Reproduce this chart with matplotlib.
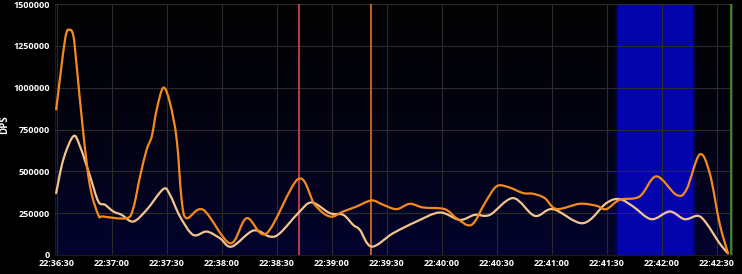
import numpy as np
import matplotlib
matplotlib.use("Agg")
import matplotlib.pyplot as plt
from matplotlib.colors import LinearSegmentedColormap
from matplotlib.path import Path
from matplotlib.patches import PathPatch

# seconds after 22:36:30
t_total = [-0.5, 4.4, 6.7, 8.9, 10.7, 14.3, 18.0, 22.5, 25.1, 38.0, 41.6, 45.3,
           48.9, 51.7, 54.4, 58.0, 61.6, 65.3, 68.0, 70.7, 79.8, 94.4, 103.5,
           114.4, 131.6, 140.7, 148.9, 156.2, 163.5, 171.7, 178.0, 185.3, 192.5,
           199.8, 211.6, 218.0, 226.2, 233.5, 239.8, 246.2, 254.4, 259.8, 266.2,
           272.6, 285.3, 294.4, 299.8, 307.1, 318.0, 327.1, 338.0, 343.5, 350.7,
           356.2, 361.6, 366.2]
dps_total = [870000, 1290000, 1345000, 1310000, 1130000, 730000, 410000, 240000,
             230000, 220000, 280000, 470000, 630000, 710000, 870000, 1000000,
             910000, 690000, 330000, 220000, 270000, 70000, 220000, 130000,
             454000, 300000, 230000, 260000, 290000, 326000, 300000, 274000,
             306000, 284000, 274000, 220000, 180000, 310000, 410000, 406000,
             370000, 366000, 340000, 275000, 306000, 294000, 274000, 330000,
             350000, 470000, 360000, 390000, 600000, 490000, 190000, 10000]

t_self = [-0.5, 3.4, 8.9, 12.5, 18.0, 22.5, 26.2, 30.7, 35.3, 41.6, 48.9, 58.0,
          61.6, 67.1, 74.3, 81.7, 88.9, 95.3, 107.1, 116.2, 121.6, 131.6, 138.9,
          148.9, 156.2, 161.6, 165.3, 171.7, 183.4, 196.2, 208.9, 219.8, 228.0,
          236.2, 248.9, 260.7, 270.7, 287.1, 299.8, 307.1, 314.4, 324.4, 334.4,
          342.5, 349.8, 354.4, 361.6, 366.2]
dps_self = [370000, 570000, 710000, 650000, 470000, 320000, 300000, 260000,
            240000, 200000, 270000, 394000, 360000, 230000, 120000, 140000,
            100000, 50000, 146000, 110000, 130000, 250000, 314000, 250000,
            240000, 180000, 150000, 50000, 130000, 200000, 254000, 210000,
            240000, 240000, 340000, 234000, 274000, 190000, 310000, 334000,
            290000, 214000, 260000, 214000, 234000, 190000, 70000, 10000]

x_ticks = [0, 30, 60, 90, 120, 150, 180, 210, 240, 270, 300, 330, 360]
x_labels = ["22:36:30", "22:37:00", "22:37:30", "22:38:00", "22:38:30",
            "22:39:00", "22:39:30", "22:40:00", "22:40:30", "22:41:00",
            "22:41:30", "22:42:00", "22:42:30"]
y_ticks = [0, 250000, 500000, 750000, 1000000, 1250000, 1500000]

marker_red = 131.8
marker_orange = 171.1
marker_green = 367.6
blue_band = (306.4, 346.9)


def spline_path(xs, ys):
    # smooth curve through the points (catmull-rom as cubic beziers)
    p = np.column_stack([xs, ys]).astype(float)
    verts = [p[0]]
    codes = [Path.MOVETO]
    n = len(p)
    for i in range(n - 1):
        p0 = p[i - 1] if i > 0 else p[i]
        p3 = p[i + 2] if i + 2 < n else p[i + 1]
        c1 = p[i] + (p[i + 1] - p0) / 6.0
        c2 = p[i + 1] - (p3 - p[i]) / 6.0
        verts += [c1, c2, p[i + 1]]
        codes += [Path.CURVE4] * 3
    return Path(verts, codes)


plt.rcParams['font.family'] = ['Open Sans', 'DejaVu Sans']

fig = plt.figure(figsize=(7.42, 2.74), dpi=100, facecolor='black')
ax = fig.add_axes([54.5 / 742, 19 / 274, 677.5 / 742, 251 / 274])
ax.set_facecolor('black')
ax.set_xlim(-1.4, 368.4)
ax.set_ylim(0, 1500000)

# background gradient, black on top to dark navy at the bottom
cmap = LinearSegmentedColormap.from_list('bg', ['#020202', '#030312', '#04042e'])
grad = np.linspace(0, 1, 256).reshape(-1, 1)
ax.imshow(grad, cmap=cmap, aspect='auto', extent=(-1.4, 368.4, 0, 1500000),
          origin='upper', zorder=0)

# blue highlighted band with soft edges
b0, b1 = blue_band
for pad, a in [(1.6, 0.35), (0.8, 0.5), (0.0, 1.0)]:
    ax.axvspan(b0 - pad, b1 + pad, color='#0404ac', alpha=a, lw=0, zorder=1)

ax.set_xticks(x_ticks)
ax.set_xticklabels(x_labels)
ax.set_yticks(y_ticks)
ax.set_yticklabels([str(v) for v in y_ticks])
ax.grid(True, color='#2b2b2b', lw=0.8, zorder=2)
ax.set_axisbelow(False)

ax.axvline(marker_red, color='#c84050', lw=1.3, zorder=3)
ax.axvline(marker_orange, color='#d06c1c', lw=1.3, zorder=3)
ax.axvline(marker_green, color='#3c8c20', lw=2.0, zorder=3)

ax.add_patch(PathPatch(spline_path(t_self, dps_self), fill=False,
                       edgecolor='#f3c48e', lw=1.6, zorder=4,
                       joinstyle='round', capstyle='round'))
ax.add_patch(PathPatch(spline_path(t_total, dps_total), fill=False,
                       edgecolor='#f48a1c', lw=1.6, zorder=5,
                       joinstyle='round', capstyle='round'))

for s in ax.spines.values():
    s.set_color('#2b2b2b')
    s.set_linewidth(0.8)
ax.spines['left'].set_color('#1a1a1a')
ax.spines['bottom'].set_color('#1a1a1a')

ax.tick_params(axis='both', length=0, colors='white', labelsize=6.5, pad=3)
for lab in ax.get_xticklabels() + ax.get_yticklabels():
    lab.set_fontweight('bold')
ax.set_ylabel('DPS', color='white', fontsize=7, fontweight='bold')
ax.yaxis.set_label_coords(-44 / 677.5, 0.52)

fig.savefig('out.png', dpi=100, facecolor='black')
